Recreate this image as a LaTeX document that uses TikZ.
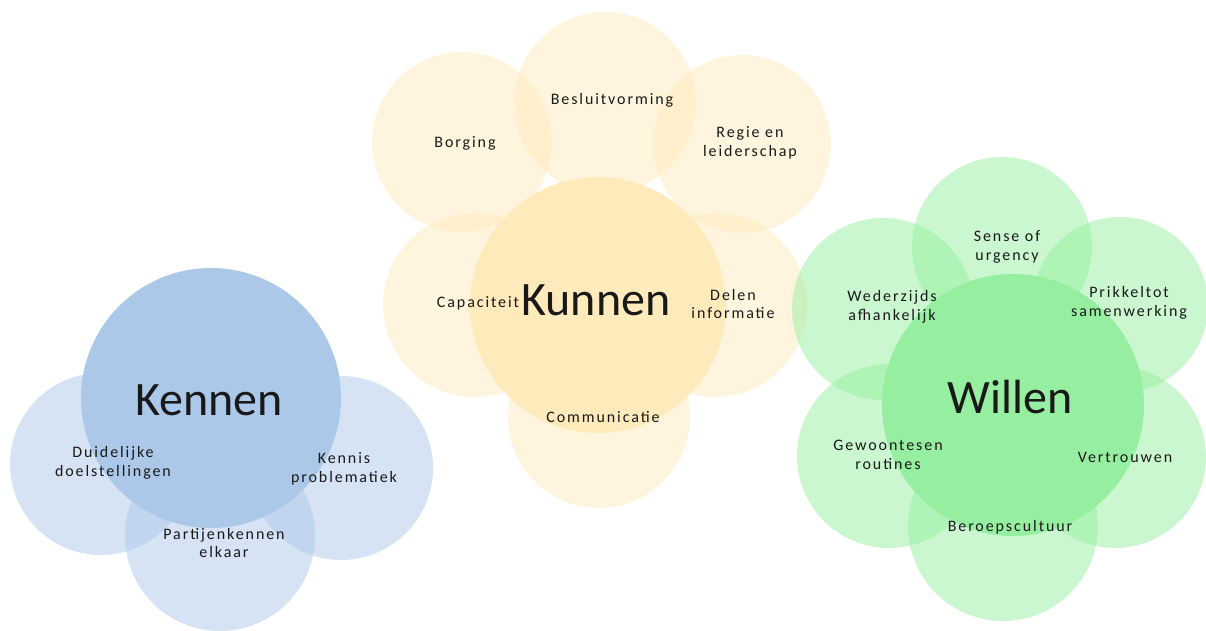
\documentclass[tikz,border=0pt]{standalone}
\usepackage{fontspec}
\setmainfont{Carlito}
\newfontfamily\lblfont{Carlito}[LetterSpace=12]
\newfontfamily\wordfont{Carlito}
\definecolor{kblue}{RGB}{172,200,233}
\definecolor{kyellow}{RGB}{255,234,187}
\definecolor{kgreen}{RGB}{150,239,160}
\definecolor{txt}{RGB}{25,25,25}
\tikzset{
  small/.style={circle, inner sep=0pt, minimum size=#1, fill opacity=0.5},
  bigc/.style={circle, inner sep=0pt, minimum size=#1},
  lbl/.style={align=center, text=txt, inner sep=0pt, font=\lblfont\fontsize{16}{18.5}\selectfont},
  word/.style={anchor=base, text=txt, inner sep=0pt, font=\wordfont\fontsize{48}{50}\selectfont}
}
\begin{document}
\begin{tikzpicture}[x=1pt,y=-1pt]
\useasboundingbox (0,0) rectangle (1206,631);
\clip (0,0) rectangle (1206,631);
% ---- Kennen (blue)
\node[small=182pt, fill=kblue] (kA) at (101,464) {};
\node[small=184pt, fill=kblue] (kB) at (341,468) {};
\node[small=190pt, fill=kblue] (kC) at (220,536) {};
\node[bigc=260pt, fill=kblue] (kM) at (211,398) {};
% ---- Kunnen (yellow)
\node[small=180pt, fill=kyellow] (uA) at (462,142) {};
\node[small=182pt, fill=kyellow] (uB) at (605,103) {};
\node[small=178pt, fill=kyellow] (uC) at (742,144) {};
\node[small=184pt, fill=kyellow] (uD) at (475,305) {};
\node[small=184pt, fill=kyellow] (uE) at (715,305) {};
\node[small=182pt, fill=kyellow] (uF) at (599,417) {};
\node[bigc=256pt, fill=kyellow] (uM) at (598,305) {};
% ---- Willen (green)
\node[small=180pt, fill=kgreen] (wA) at (1002,247) {};
\node[small=182pt, fill=kgreen] (wB) at (883,309) {};
\node[small=176pt, fill=kgreen] (wC) at (1120,305) {};
\node[small=184pt, fill=kgreen] (wD) at (889,456) {};
\node[small=182pt, fill=kgreen] (wE) at (1115,457) {};
\node[small=190pt, fill=kgreen] (wF) at (1003,526) {};
\node[bigc=262pt, fill=kgreen] (wM) at (1013,405) {};
% ---- labels
\node[word] (tK) at (209,415) {Kennen};
\node[lbl] (tkA) at (113,463) {Duidelijke\\doelstellingen};
\node[lbl] (tkB) at (344,469) {Kennis\\problematiek};
\node[lbl] (tkC) at (224,543) {Partijenkennen\\elkaar};
\node[word] (tU) at (596,315) {Kunnen};
\node[lbl] (tuA) at (465,143) {Borging};
\node[lbl] (tuB) at (612,100) {Besluitvorming};
\node[lbl] (tuC) at (750,143) {Regie en\\leiderschap};
\node[lbl] (tuD) at (478,303) {Capaciteit};
\node[lbl] (tuE) at (733,304) {Delen\\informatie};
\node[lbl] (tuF) at (603,417) {Communicatie};
\node[word] (tW) at (1010,413) {Willen};
\node[lbl] (twA) at (1007,247) {Sense of\\urgency};
\node[lbl] (twB) at (892,307) {Wederzijds\\afhankelijk};
\node[lbl] (twC) at (1129,303) {Prikkeltot\\samenwerking};
\node[lbl] (twD) at (888,455) {Gewoontesen\\routines};
\node[lbl] (twE) at (1125,457) {Vertrouwen};
\node[lbl] (twF) at (1010,527) {Beroepscultuur};
\end{tikzpicture}
\end{document}
